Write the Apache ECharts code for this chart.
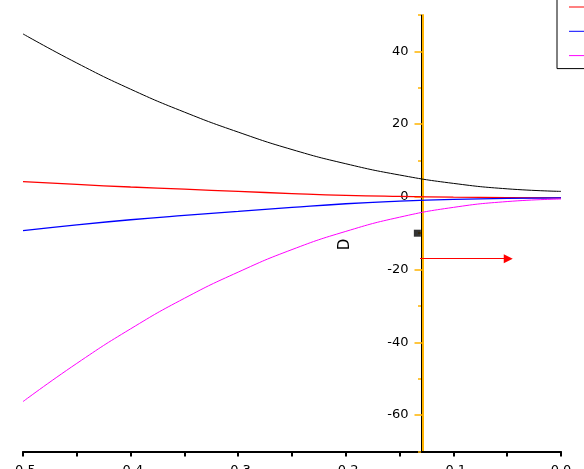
<!DOCTYPE html>
<html>
<head>
<meta charset="utf-8">
<title>chart</title>
<script src="https://cdn.jsdelivr.net/npm/echarts@6/dist/echarts.min.js"></script>
<style>
  html, body { margin: 0; padding: 0; background: #fff; }
  #main { width: 584px; height: 469px; }
</style>
</head>
<body>
<div id="main"></div>
<script>
// x positions
const xValues = [-0.5, -0.45, -0.4, -0.35, -0.3, -0.25, -0.2, -0.15, -0.1, -0.05, 0]
// curves
const blackValues = [44.8, 36.8, 29.6, 23.3, 17.8, 13.0, 9.1, 6.0, 3.7, 2.2, 1.5]
const redValues = [4.2, 3.4, 2.7, 2.1, 1.5, 0.9, 0.4, 0.1, -0.1, -0.2, -0.3]
const blueValues = [-9.3, -7.7, -6.3, -5.1, -4.0, -2.9, -1.9, -1.2, -0.7, -0.4, -0.3]
const magentaValues = [-56.3, -45.8, -36.3, -27.9, -20.7, -14.5, -9.5, -5.6, -2.9, -1.3, -0.6]
const legendNames = ['B', 'C', 'D']
// marker square and arrow
const squarePoint = [-0.1335, -10]
const arrowStart = [-0.131, -17]
const arrowEnd = [-0.049, -17]
// axis ticks and labels
const xLabelValues = [-0.5, -0.4, -0.3, -0.2, -0.1, 0]
const yMajorTicks = [-60, -40, -20, 0, 20, 40]
const yMinorTicks = [-70, -50, -30, -10, 10, 30, 50]
const yAxisName = 'D'

const font = "'DejaVu Sans', Verdana, sans-serif"

function pairs(ys) {
	return xValues.map((x, i) => [x, ys[i]])
}

const chart = echarts.init(document.getElementById('main'))
const option = {
	animation: false,
	grid: { left: 23, right: 23, top: 15, bottom: 17.6, containLabel: false, outerBoundsMode: 'none' },
	legend: {
		data: legendNames,
		orient: 'vertical',
		left: 557,
		top: -5,
		padding: [5, 4, 6, 12],
		itemGap: 10.3,
		itemWidth: 30,
		itemHeight: 1,
		icon: 'rect',
		borderColor: '#000',
		borderWidth: 1,
		textStyle: { fontSize: 13, lineHeight: 14, fontFamily: font, color: '#000' }
	},
	xAxis: {
		type: 'value',
		min: -0.5,
		max: 0,
		interval: 0.05,
		axisLine: { onZero: false, lineStyle: { color: '#000', width: 2 } },
		axisTick: { show: true, length: 5, lineStyle: { color: '#000', width: 2 } },
		axisLabel: {
			customValues: xLabelValues,
			margin: 13,
			fontSize: 13,
			fontFamily: font,
			color: '#000',
			formatter: v => v.toFixed(1)
		},
		splitLine: { show: false }
	},
	yAxis: [
		{
			// orange axis with labels
			type: 'value',
			position: 'left',
			min: -70,
			max: 50,
			interval: 10,
			offset: -399.5,
			axisLine: { show: true, onZero: false, lineStyle: { color: '#ffb400', width: 2 } },
			axisTick: { show: true, length: 8, customValues: yMajorTicks, lineStyle: { color: '#ffb400', width: 1.5 } },
			axisLabel: { margin: 14, customValues: yMajorTicks, fontSize: 13, fontFamily: font, color: '#000' },
			splitLine: { show: false }
		},
		{
			// thin black line next to it, with minor ticks
			type: 'value',
			position: 'left',
			min: -70,
			max: 50,
			interval: 10,
			offset: -398,
			axisLine: { show: true, onZero: false, lineStyle: { color: '#000', width: 1 } },
			axisTick: { show: true, length: 3, customValues: yMinorTicks, lineStyle: { color: '#ffb400', width: 1.5 } },
			axisLabel: { show: false },
			splitLine: { show: false }
		}
	],
	graphic: [
		{
			type: 'text',
			x: 345.5,
			y: 244.5,
			rotation: Math.PI / 2,
			style: {
				text: yAxisName,
				fontSize: 15,
				fontFamily: font,
				fill: '#000',
				align: 'center',
				verticalAlign: 'middle'
			}
		}
	],
	series: [
		{
			name: 'A',
			type: 'line',
			data: pairs(blackValues),
			smooth: true,
			showSymbol: false,
			lineStyle: { color: '#000', width: 1 },
			itemStyle: { color: '#000' }
		},
		{
			name: legendNames[0],
			type: 'line',
			data: pairs(redValues),
			smooth: true,
			showSymbol: false,
			lineStyle: { color: '#ff0000', width: 1.3 },
			itemStyle: { color: '#ff0000' }
		},
		{
			name: legendNames[1],
			type: 'line',
			data: pairs(blueValues),
			smooth: true,
			showSymbol: false,
			lineStyle: { color: '#0000ff', width: 1.3 },
			itemStyle: { color: '#0000ff' }
		},
		{
			name: legendNames[2],
			type: 'line',
			data: pairs(magentaValues),
			smooth: true,
			showSymbol: false,
			lineStyle: { color: '#ff00ff', width: 1 },
			itemStyle: { color: '#ff00ff' }
		},
		{
			name: 'marker',
			type: 'scatter',
			data: [squarePoint],
			symbol: 'rect',
			symbolSize: 7,
			itemStyle: { color: '#000' },
			markLine: {
				silent: true,
				symbol: ['none', 'triangle'],
				symbolSize: 9,
				label: { show: false },
				lineStyle: { color: '#ff0000', width: 1, type: 'solid' },
				data: [[{ coord: arrowStart }, { coord: arrowEnd }]]
			}
		}
	]
}
chart.setOption(option)
</script>
</body>
</html>
